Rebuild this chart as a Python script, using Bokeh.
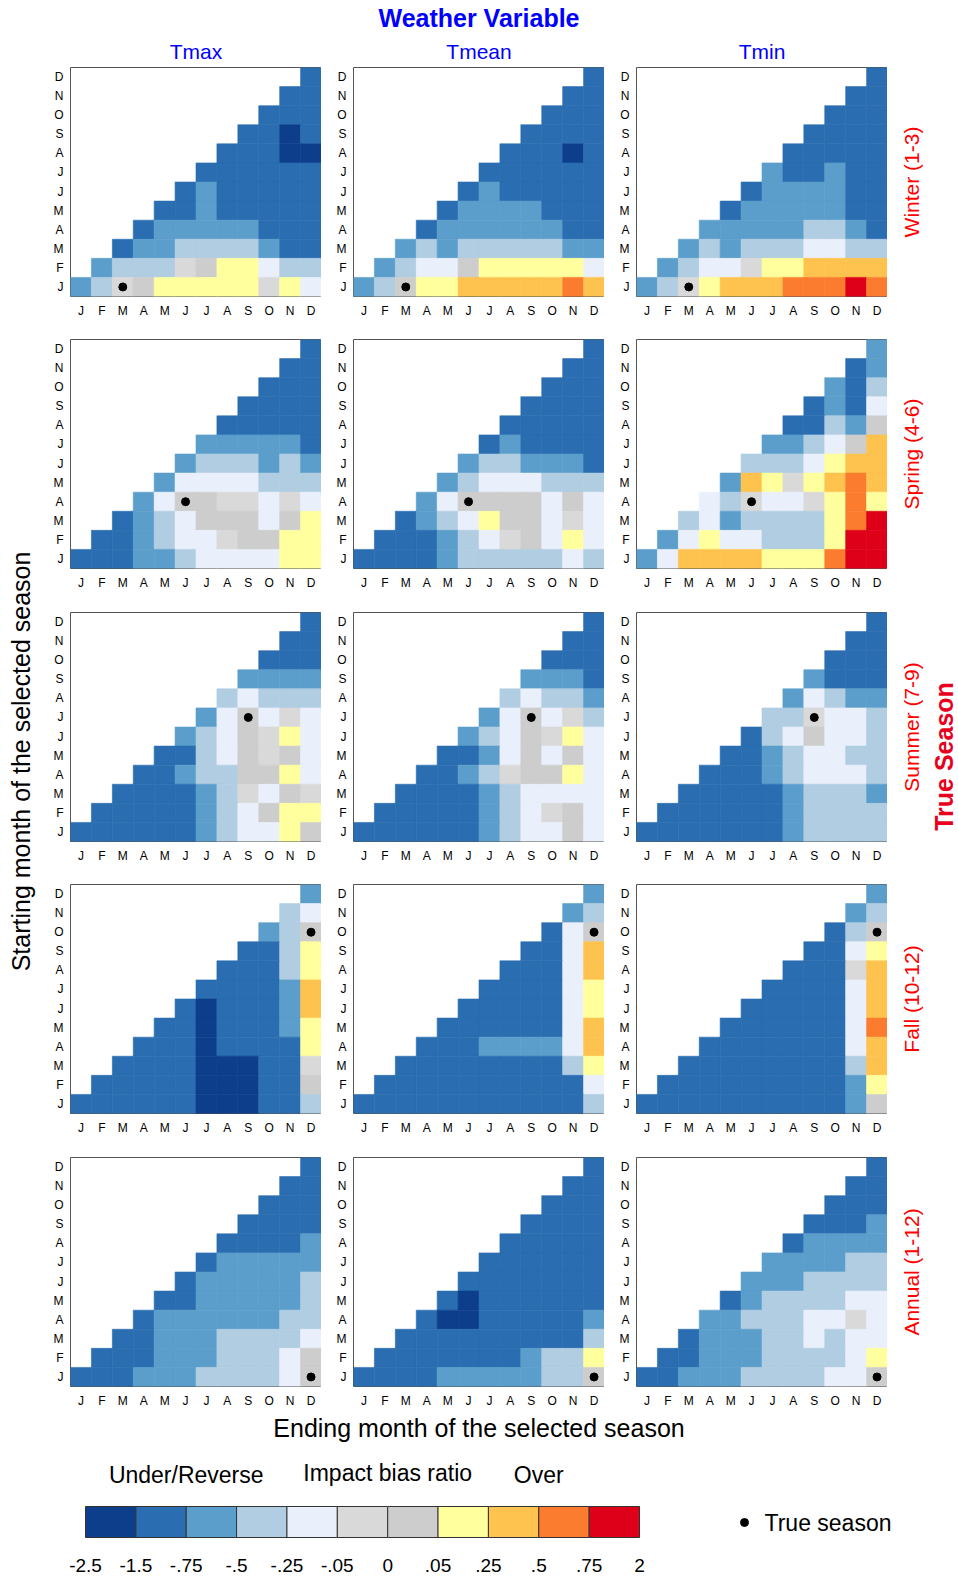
import math
from bokeh.plotting import figure
from bokeh.layouts import row, column
from bokeh.models import Range1d, FixedTicker
from bokeh.core.properties import value
from bokeh.embed import file_html
from bokeh.resources import INLINE

# ---------------- data ----------------
MONTHS = ["J", "F", "M", "A", "M", "J", "J", "A", "S", "O", "N", "D"]
VARIABLES = ["Tmax", "Tmean", "Tmin"]
SEASONS = ["Winter (1-3)", "Spring (4-6)", "Summer (7-9)", "Fall (10-12)", "Annual (1-12)"]
TRUE_START = [0, 3, 6, 9, 0]   # starting-month index of the true season
TRUE_END = [2, 5, 8, 11, 11]   # ending-month index of the true season

# impact-bias-ratio classes
CLASS_CODES = ["X", "B", "M", "L", "W", "g", "G", "Y", "O", "R", "E"]
CLASS_COLORS = ["#0C3E8B", "#2A6DB0", "#5B9ECB", "#B0CDE2", "#EAF0FB", "#D9D9D9",
                "#CDCDCD", "#FFFF9E", "#FEC34F", "#FB7C2F", "#DE0019"]
CLASS_BOUNDS = ["-2.5", "-1.5", "-.75", "-.5", "-.25", "-.05", "0", ".05", ".25", ".5", ".75", "2"]

# each grid: rows from starting month D (top) to J (bottom); columns = ending month J..D
tmax_winter = ["...........B", "..........BB", ".........BBB", "........BBXB",
               ".......BBBXX", "......BBBBBB", ".....BMBBBBB", "....BBMBBBBB",
               "...BMMMMMBBB", "..BMMLLLLMBB", ".MLLLgGYYWLL", "MLgGYYYYYgYW"]
tmean_winter = ["...........B", "..........BB", ".........BBB", "........BBBB",
                ".......BBBXB", "......BBBBBB", ".....BMBBBBB", "....BMMMMBBB",
                "...BMMMMMMBB", "..MLMLLLLLMM", ".MLWWGYYYYYW", "MLGYYOOOOORO"]
tmin_winter = ["...........B", "..........BB", ".........BBB", "........BBBB",
               ".......BBBBB", "......MBBMBB", ".....BMMMMBB", "....BMMMMMBB",
               "...MMMMMLLMB", "..MLMLLLWWLL", ".MLWWgYYOOOO", "MLgYOOORRRER"]

tmax_spring = ["...........B", "..........BB", ".........BBB", "........BBBB",
               ".......BBBBB", "......MMMMMB", ".....MLLLMLM", "....MWWWWLLL",
               "...MWGGggWgW", "..BMLWGGGWGY", ".BBMLWWgGGYY", "BBBMMLWWWWYY"]
tmean_spring = ["...........B", "..........BB", ".........BBB", "........BBBB",
                ".......BBBBB", "......BMBBBB", ".....MLLMMMB", "....MLWWWLLL",
                "...MWGGGGWGW", "..BMLWYGGWgW", ".BBBMLWgGWYW", "BBBBMLLLLLWL"]
tmin_spring = ["...........M", "..........BM", ".........MBL", "........BMBW",
               ".......BBLMG", "......MMLWGO", ".....LLLWYOO", "....MOYgYORO",
               "...WLgWWgYRY", "..LWMLLLLYRE", ".MWYWWLLLYEE", "MWOOOOYYYREE"]

tmax_summer = ["...........B", "..........BB", ".........BBB", "........MMMM",
               ".......LWLLL", "......MWGWgW", ".....MLWGgYW", "....BBLWGgGW",
               "...BBMLLGGYW", "..BBBBMLgWGg", ".BBBBBMLWGYY", "BBBBBBMLWWYG"]
tmean_summer = ["...........B", "..........BB", ".........BBB", "........MMMB",
                ".......LWLLM", "......MWGWgL", ".....MLWGgYW", "....BBMWGWGW",
                "...BBMLgGGYW", "..BBBBMLWWWW", ".BBBBBMLWgGW", "BBBBBBMLWWGW"]
tmin_summer = ["...........B", "..........BB", ".........BBB", "........MBBB",
               ".......MWLMM", "......LLgWWL", ".....BLWGWWL", "....BBMLWWLL",
               "...BBBMLWWWL", "..BBBBBMLLLM", ".BBBBBBMLLLL", "BBBBBBBMLLLL"]

tmax_fall = ["...........M", "..........LW", ".........MLG", "........BBLY",
             ".......BBBLY", "......BBBBMO", ".....BXBBBMO", "....BBXBBBMY",
             "...BBBXBBBBY", "..BBBBXXXBBg", ".BBBBBXXXBBG", "BBBBBBXXXBBL"]
tmean_fall = ["...........M", "..........ML", ".........BWG", "........BBWO",
              ".......BBBWO", "......BBBBWY", ".....BBBBBWY", "....BBBBBBWO",
              "...BBBMMMMWO", "..BBBBBBBBLY", ".BBBBBBBBBBW", "BBBBBBBBBBBL"]
tmin_fall = ["...........M", "..........ML", ".........BLG", "........BBWY",
             ".......BBBgO", "......BBBBWO", ".....BBBBBWO", "....BBBBBBWR",
             "...BBBBBBBWO", "..BBBBBBBBLO", ".BBBBBBBBBMY", "BBBBBBBBBBMG"]

tmax_annual = ["...........B", "..........BB", ".........BBB", "........BBBB",
               ".......BBBBM", "......BMMMMM", ".....BMMMMML", "....BBMMMMML",
               "...BMMMMMMLL", "..BBMMMLLLLW", ".BBBMMMLLLWG", "BBBMMMLLLLWG"]
tmean_annual = ["...........B", "..........BB", ".........BBB", "........BBBB",
                ".......BBBBB", "......BBBBBB", ".....BBBBBBB", "....BXBBBBBB",
                "...BXXBBBBBM", "..BBBBBBBBBL", ".BBBBBBBMLLY", "BBBBMMMMMLLG"]
tmin_annual = ["...........B", "..........BB", ".........BBB", "........BBBM",
               ".......BMMMM", "......MMMMLL", ".....MMMLLLL", "....BMLLLLWW",
               "...MMLLLWWgW", "..BMMMLLWLWW", ".BBMMMLLLLWY", "BBMMMLLLLWWG"]

PANELS = [[tmax_winter, tmean_winter, tmin_winter],
          [tmax_spring, tmean_spring, tmin_spring],
          [tmax_summer, tmean_summer, tmin_summer],
          [tmax_fall, tmean_fall, tmin_fall],
          [tmax_annual, tmean_annual, tmin_annual]]

# ---------------- layout ----------------
FONT = "Liberation Sans"
TOTAL_W = 957
W_LEFT = 38
PANEL_W = 283
BORDER_L = 32
FRAME_W = 251
W_RIGHT = TOTAL_W - W_LEFT - 3 * PANEL_W
HEADER_H = 65
BORDER_T = 2
FRAME_H = 229
ROW_H = [272, 273, 272, 273, 257]
MID_H = sum(ROW_H)
FOOTER_H = 1580 - HEADER_H - MID_H
FOOT_TOP = HEADER_H + MID_H


def text_fig(w, h):
    p = figure(width=w, height=h, x_range=Range1d(0, w), y_range=Range1d(h, 0),
               min_border=0, toolbar_location=None, output_backend="svg",
               x_axis_type=None, y_axis_type=None, outline_line_color=None)
    for g in p.grid:
        g.visible = False
    return p


col_centers = [W_LEFT + c * PANEL_W + BORDER_L + FRAME_W / 2 for c in range(3)]

# header
header = text_fig(TOTAL_W, HEADER_H)
header.text(x=[col_centers[1]], y=[17], text=["Weather Variable"], text_font=value(FONT),
            text_font_size="25px", text_font_style="bold", text_color="#0000FF",
            text_align="center", text_baseline="middle")
header.text(x=col_centers, y=[51] * 3, text=VARIABLES, text_font=value(FONT),
            text_font_size="21px", text_color="#0000FF", text_align="center",
            text_baseline="middle")

# left: y-axis title
left = text_fig(W_LEFT, MID_H)
left.text(x=[20], y=[761 - HEADER_H], text=["Starting month of the selected season"],
          text_font=value(FONT), text_font_size="25px", text_color="black",
          text_align="center", text_baseline="middle", angle=math.pi / 2)

# right: season labels
right = text_fig(W_RIGHT, MID_H)
row_tops = [sum(ROW_H[:r]) + BORDER_T for r in range(5)]
right.text(x=[24] * 5, y=[t + FRAME_H / 2 for t in row_tops], text=SEASONS,
           text_font=value(FONT), text_font_size="21px", text_color="#FF0000",
           text_align="center", text_baseline="middle", angle=math.pi / 2)
right.text(x=[56], y=[756 - HEADER_H], text=["True Season"], text_font=value(FONT),
           text_font_size="25px", text_font_style="bold", text_color="#E8001C",
           text_align="center", text_baseline="middle", angle=math.pi / 2)

# panels
panel_rows = []
for r in range(5):
    figs = []
    for c in range(3):
        grid = PANELS[r][c]
        xs, ys, fills = [], [], []
        for i, line in enumerate(grid):
            s = 11 - i
            for e, ch in enumerate(line):
                if ch == ".":
                    continue
                xs.append(e)
                ys.append(s)
                fills.append(CLASS_COLORS[CLASS_CODES.index(ch)])
        h = ROW_H[r]
        p = figure(width=PANEL_W, height=h, x_range=Range1d(-0.5, 11.5),
                   y_range=Range1d(-0.5, 11.5), min_border_left=BORDER_L,
                   min_border_right=0, min_border_top=BORDER_T,
                   min_border_bottom=h - BORDER_T - FRAME_H,
                   toolbar_location=None, output_backend="svg")
        p.rect(x=xs, y=ys, width=1, height=1, fill_color=fills, line_color=fills,
               line_width=0.6)
        p.scatter(x=[TRUE_END[r]], y=[TRUE_START[r]], size=8, fill_color="black",
                  line_color="black")
        for ax in (p.xaxis[0], p.yaxis[0]):
            ax.ticker = FixedTicker(ticks=list(range(12)))
            ax.major_label_overrides = {i: m for i, m in enumerate(MONTHS)}
            ax.major_tick_line_color = None
            ax.major_tick_out = 0
            ax.major_tick_in = 0
            ax.minor_tick_line_color = None
            ax.minor_tick_out = 0
            ax.axis_line_color = None
            ax.major_label_text_font = FONT
            ax.major_label_text_font_size = "12px"
            ax.major_label_text_color = "black"
        p.xaxis.major_label_standoff = 7
        p.yaxis.major_label_standoff = 7
        p.grid.visible = False
        p.outline_line_color = "#555555"
        p.outline_line_width = 1
        figs.append(p)
    panel_rows.append(row(*figs, spacing=0))

# footer: x-axis title and legend (local y = page y - FOOT_TOP)
footer = text_fig(TOTAL_W, FOOTER_H)
footer.text(x=[col_centers[1]], y=[1427 - FOOT_TOP],
            text=["Ending month of the selected season"], text_font=value(FONT),
            text_font_size="25px", text_color="black", text_align="center",
            text_baseline="middle")
BAR_X0 = 85
BAR_CELL = 554 / len(CLASS_COLORS)
BAR_Y = 1521.5 - FOOT_TOP
BAR_H = 31
footer.rect(x=[BAR_X0 + (i + 0.5) * BAR_CELL for i in range(len(CLASS_COLORS))],
            y=[BAR_Y] * len(CLASS_COLORS), width=BAR_CELL, height=BAR_H,
            fill_color=CLASS_COLORS, line_color="#333333", line_width=1)
footer.text(x=[BAR_X0 + i * BAR_CELL for i in range(len(CLASS_BOUNDS))],
            y=[1565 - FOOT_TOP] * len(CLASS_BOUNDS), text=CLASS_BOUNDS,
            text_font=value(FONT), text_font_size="19px", text_color="black",
            text_align="center", text_baseline="middle")
footer.text(x=[BAR_X0 + 2 * BAR_CELL, BAR_X0 + 6 * BAR_CELL, BAR_X0 + 9 * BAR_CELL],
            y=[1474 - FOOT_TOP, 1472 - FOOT_TOP, 1474 - FOOT_TOP],
            text=["Under/Reverse", "Impact bias ratio", "Over"],
            text_font=value(FONT), text_font_size="23px", text_color="black",
            text_align="center", text_baseline="middle")
footer.scatter(x=[744], y=[1522 - FOOT_TOP], size=8, fill_color="black", line_color="black")
footer.text(x=[764], y=[1522 - FOOT_TOP], text=["True season"], text_font=value(FONT),
            text_font_size="23px", text_color="black", text_align="left",
            text_baseline="middle")

layout = column(header,
                row(left, column(*panel_rows, spacing=0), right, spacing=0),
                footer, spacing=0)

open("out.html", "w").write(file_html(layout, INLINE))
